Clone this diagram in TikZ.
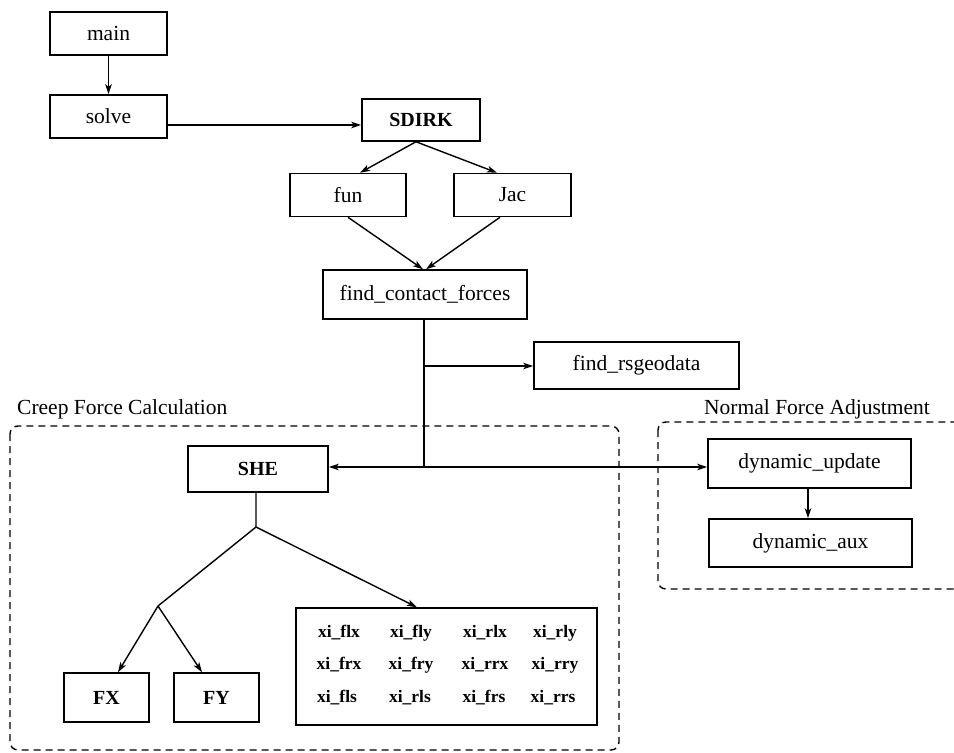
\documentclass[tikz,border=0pt]{standalone}
\usepackage{fontspec}
\setmainfont{Liberation Serif}
\usetikzlibrary{arrows.meta}
\tikzset{
  box/.style={draw, line width=1.5pt, inner sep=0pt, font=\fontsize{21.5}{24}\selectfont},
  bbox/.style={box, font=\fontsize{20}{24}\selectfont\bfseries},
  xil/.style={inner sep=0pt, font=\fontsize{17.5}{20}\selectfont\bfseries},
  lab/.style={inner sep=0pt, anchor=west, font=\fontsize{21.5}{24}\selectfont},
  arr/.style={line width=1.4pt, -{Stealth[length=10pt,width=6.5pt,inset=2.5pt]}},
  ln/.style={line width=1.4pt},
  grp/.style={draw, dashed, dash pattern=on 7pt off 5pt, line width=1.4pt, rounded corners=8pt}
}
\begin{document}
\begin{tikzpicture}[x=1pt,y=-1pt]
\useasboundingbox (0,0) rectangle (954,753);
% group frames
\draw[grp] (10,426) rectangle (619,750);
\draw[grp] (658,422) rectangle (968,589);
\node[lab] (creep) at (17,409) {Creep Force Calculation};
\node[lab] (normal) at (704,409) {Normal Force Adjustment};
% boxes
\node[box, minimum width=117pt, minimum height=43pt] (main) at (108.5,33.5) {main};
\node[box, minimum width=117pt, minimum height=43pt] (solve) at (108.5,116.5) {solve};
\node[bbox, minimum width=118pt, minimum height=42pt] (sdirk) at (421,120) {SDIRK};
\node[box, minimum width=116pt, minimum height=43pt] (fun) at (348,195) {fun};
\node[box, minimum width=117pt, minimum height=43pt] (jac) at (512.5,195) {Jac};
\node[box, minimum width=204pt, minimum height=49pt] (fcf) at (425,294.5) {find\_contact\_forces};
\node[box, minimum width=205pt, minimum height=47pt] (geo) at (636.5,365.5) {find\_rsgeodata};
\node[bbox, minimum width=140pt, minimum height=46pt] (she) at (258,469) {SHE};
\node[box, minimum width=203pt, minimum height=49pt] (dupd) at (809.5,463.5) {dynamic\_update};
\node[box, minimum width=203pt, minimum height=48pt] (daux) at (810.5,543) {dynamic\_aux};
\node[bbox, minimum width=85pt, minimum height=49pt] (fx) at (106.5,697.5) {FX};
\node[bbox, minimum width=85pt, minimum height=49pt] (fy) at (216.5,697.5) {FY};
\node[draw, line width=1.5pt, minimum width=301pt, minimum height=117pt] (xi) at (446.5,666.5) {};
% xi labels
\node[xil] (a1) at (339,633) {xi\_flx};
\node[xil] (a2) at (411,633) {xi\_fly};
\node[xil] (a3) at (485,633) {xi\_rlx};
\node[xil] (a4) at (555,633) {xi\_rly};
\node[xil] (b1) at (339,665) {xi\_frx};
\node[xil] (b2) at (411,665) {xi\_fry};
\node[xil] (b3) at (485,665) {xi\_rrx};
\node[xil] (b4) at (555,665) {xi\_rry};
\node[xil] (c1) at (337,698) {xi\_fls};
\node[xil] (c2) at (410,698) {xi\_rls};
\node[xil] (c3) at (484,698) {xi\_frs};
\node[xil] (c4) at (553,698) {xi\_rrs};
% junctions
\coordinate (fork) at (424,467);
\coordinate (gbr) at (424,366);
\coordinate (j1) at (256,527);
\coordinate (j2) at (158,606);
\coordinate (sout) at ([yshift=-8.5pt]solve.east);
% connectors
\draw[arr] (main.south) -- (solve.north);
\draw[arr] (sout) -- (sdirk.west |- sout);
\draw[arr] ([xshift=-5pt]sdirk.south) -- ([xshift=12pt]fun.north);
\draw[arr] ([xshift=-5pt]sdirk.south) -- ([xshift=-15.5pt]jac.north);
\draw[arr] (fun.south) -- ([xshift=-2pt]fcf.north);
\draw[arr] ([xshift=-12.5pt]jac.south) -- ([xshift=1pt]fcf.north);
\draw[ln] ([xshift=-1pt]fcf.south) -- (fork);
\draw[arr] (gbr) -- (geo.west |- gbr);
\draw[arr] (fork) -- (she.east |- fork);
\draw[arr] (fork) -- (dupd.west |- fork);
\draw[arr] ([xshift=-1.5pt]dupd.south) -- ([xshift=-2.5pt]daux.north);
\draw[ln] ([xshift=-2pt]she.south) -- (j1) -- (j2);
\draw[arr] (j1) -- ([xshift=-29.5pt]xi.north);
\draw[arr] (j2) -- ([xshift=11.5pt]fx.north);
\draw[arr] (j2) -- ([xshift=-14.5pt]fy.north);
\end{tikzpicture}
\end{document}
